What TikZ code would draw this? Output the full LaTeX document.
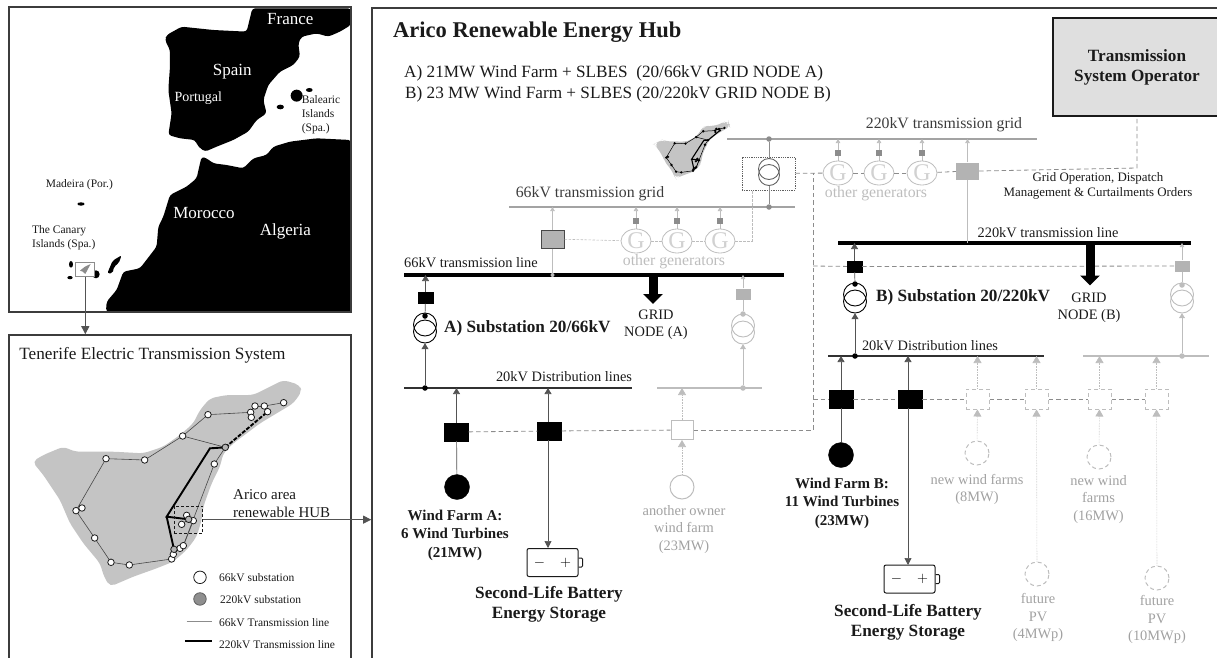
\documentclass[tikz,border=0pt]{standalone}
\usepackage{fontspec}
\setmainfont{Liberation Serif}
\usepackage{xcolor}
\usepackage{tikz}
\usetikzlibrary{shapes.geometric, arrows.meta, calc}

\definecolor{inkdark}{HTML}{1A1A1A}
\definecolor{wiregrey}{HTML}{8C8C8C}
\definecolor{fadegrey}{HTML}{BDBDBD}
\definecolor{boxgrey}{HTML}{B3B3B3}
\definecolor{islandgrey}{HTML}{C4C4C4}

\tikzset{
    txt/.style={inner sep=0pt, align=center, text=inkdark, font=\fontsize{14.4}{17.5}\selectfont},
    fadetxt/.style={txt, text=fadegrey!85!black},
    boldtxt/.style={txt, font=\fontsize{15}{18.5}\selectfont\bfseries},
    bigbold/.style={txt, font=\fontsize{17.2}{20}\selectfont\bfseries},
    maptxt/.style={txt, text=white, font=\fontsize{17}{20}\selectfont},
    smalltxt/.style={txt, font=\fontsize{11.5}{14.2}\selectfont},
    frame/.style={draw=inkdark!85, line width=1.6pt},
    busblack/.style={line width=3.4pt, black},
    busgrey/.style={line width=2.2pt, wiregrey!80},
    busdist/.style={line width=1.5pt, inkdark!90},
    busfade/.style={line width=1.1pt, fadegrey},
    wire/.style={line width=.7pt, inkdark!75},
    wiretop/.style={line width=.6pt, wiregrey},
    wirefade/.style={line width=.6pt, fadegrey},
    tapup/.style={wire, -{Triangle[length=6pt,width=7pt]}},
    taptop/.style={wiretop, -{Triangle[length=4pt,width=4.5pt]}},
    tapfade/.style={wirefade, densely dotted, -{Triangle[length=7pt,width=8pt]}},
    ctrl/.style={line width=.8pt, wiregrey, dash pattern=on 4.5pt off 3pt},
    ctrlfade/.style={line width=.6pt, fadegrey, dash pattern=on 2.5pt off 1.5pt},
    gridarrow/.style={line width=9pt, black, -{Triangle[length=10pt,width=19pt,inset=0pt]}},
    brk/.style={draw=black, fill=black, minimum width=24pt, minimum height=18pt, inner sep=0pt},
    brksmall/.style={draw=black, fill=black, minimum width=15pt, minimum height=11pt, inner sep=0pt},
    brkgrey/.style={draw=none, fill=boxgrey, minimum width=15pt, minimum height=11pt, inner sep=0pt},
    brkwhite/.style={draw=fadegrey, fill=white, line width=1pt, minimum width=22pt, minimum height=19pt, inner sep=0pt},
    brkfuture/.style={draw=fadegrey, line width=1pt, dash pattern=on 4pt off 3pt, fill=white, minimum width=23pt, minimum height=20pt, inner sep=0pt},
    sqsmall/.style={fill=wiregrey, minimum size=6pt, inner sep=0pt},
    gen/.style={ellipse, draw=fadegrey, line width=.8pt, minimum width=30pt, minimum height=24pt, inner sep=0pt, text=fadegrey!70, font=\fontsize{24}{24}\selectfont},
    farm/.style={circle, draw=black, fill=black, minimum size=25pt, inner sep=0pt},
    farmfade/.style={circle, draw=fadegrey, line width=1pt, minimum size=24pt, inner sep=0pt},
    farmfuture/.style={circle, draw=fadegrey, line width=1pt, dash pattern=on 4pt off 3pt, minimum size=24pt, inner sep=0pt},
    dotblack/.style={circle, fill=black, minimum size=5.5pt, inner sep=0pt},
    dotgrey/.style={circle, fill=wiregrey, minimum size=5.5pt, inner sep=0pt},
    dotfade/.style={circle, fill=fadegrey, minimum size=5.5pt, inner sep=0pt},
    battery/.style={draw=inkdark, line width=1pt, rounded corners=2pt, fill=white, minimum width=51pt, minimum height=28pt, inner sep=0pt, font=\fontsize{15}{15}\selectfont},
    sub66/.style={circle, draw=inkdark, fill=white, line width=.8pt, minimum size=6.5pt, inner sep=0pt},
    sub220/.style={circle, draw=inkdark, fill=boxgrey, line width=.8pt, minimum size=6.5pt, inner sep=0pt},
    subtiny/.style={circle, fill=black, minimum size=2.6pt, inner sep=0pt},
    linethin/.style={line width=.6pt, inkdark!80},
    linethick/.style={line width=1.9pt, black},
    linethickdash/.style={line width=1.9pt, black, dash pattern=on 4pt off 1.5pt}
}

% transformer symbol: name, position, colour, radius, shift of the two windings
\newcommand{\trafo}[5]{
    \node[inner sep=0pt, minimum width=2*#4 pt, minimum height=2*#4 pt + 2*#5 pt] (#1) at (#2) {};
    \draw[#3, line width=.9pt] ($(#1.center)+(0,-#5)$) circle (#4pt);
    \draw[#3, line width=.9pt] ($(#1.center)+(0,#5)$) circle (#4pt);
}

\pgfdeclarelayer{islandbase}
\pgfdeclarelayer{netlines}
\pgfsetlayers{islandbase,netlines,main}

% island with its network: name prefix, substation styles, line styles
\newcommand{\tenerife}[6]{
    \begin{pgfonlayer}{islandbase}
    \fill[islandgrey, rounded corners=5pt] (97,425) -- (130,405) -- (190,380) -- (225,395) -- (290,395) -- (340,395) -- (430,400) -- (490,380) -- (540,345) -- (580,310) -- (600,270) -- (630,235) -- (680,225) -- (760,225) -- (800,205) -- (850,180) -- (900,195) -- (905,215) -- (880,250) -- (830,280) -- (780,310) -- (740,340) -- (700,370) -- (670,400) -- (660,440) -- (635,490) -- (610,560) -- (605,600) -- (590,650) -- (560,690) -- (520,725) -- (470,745) -- (400,770) -- (330,800) -- (312,770) -- (300,730) -- (250,670) -- (210,610) -- (180,540) -- (130,465) -- cycle;
    \end{pgfonlayer}
    \coordinate (#1hub) at (500,590);
    \coordinate (#1bend) at (630,385);
    \foreach \nm/\x/\y in {a/228/572,b/246/564,c/318/416,d/434/420,e/548/348,f/624/284,g/752/277,h/765/258,i/793/258,j/851/248,k/803/275,l/754/292,n/643/432,o/284/654,p/333/727,q/388/735,r/515/717,s/520/703,u/540/685,v/550/677,w/560/586,z/545/613,y/580/602} {
        \node[#2] (#1\nm) at (\x,\y) {};
    }
    \foreach \nm/\x/\y in {m/676/382,t/522/688,x/566/598} {
        \node[#3] (#1\nm) at (\x,\y) {};
    }
    \begin{pgfonlayer}{netlines}
    \foreach \p/\q in {a/c,c/d,d/e,e/f,f/g,g/h,h/i,i/j,i/k,g/l,e/m,m/n,n/v,y/v,a/b,a/o,o/p,p/q,q/r,r/s,s/u,u/v,z/x} {
        \draw[#4] (#1\p.center) -- (#1\q.center);
    }
    \draw[#5] (#1x.center) -- (#1hub) -- (#1bend) -- (#1m.center);
    \draw[#5] (#1hub) -- (#1t.center);
    \draw[#6] (#1m.center) -- (#1k.center);
    \end{pgfonlayer}
}

\begin{document}
\begin{tikzpicture}[x=1pt, y=-1pt]
\useasboundingbox (0,0) rectangle (1217,657);
\clip (0,0) rectangle (1217,657);

% Map of the region
\begin{scope}[x=.3333pt, y=-.3333pt]
\fill[black, rounded corners=3pt] (757,25) -- (1053,25) -- (1053,75) -- (1020,95) -- (985,110) -- (950,100) -- (905,110) -- (895,130) -- (900,170) -- (880,195) -- (840,215) -- (805,255) -- (790,300) -- (800,340) -- (770,360) -- (745,395) -- (700,420) -- (650,440) -- (615,455) -- (595,440) -- (585,420) -- (540,415) -- (505,405) -- (515,340) -- (505,270) -- (510,200) -- (510,150) -- (495,120) -- (500,105) -- (545,80) -- (640,90) -- (740,95) -- cycle;
\fill[black, rounded corners=3pt] (605,470) -- (620,475) -- (640,490) -- (680,495) -- (730,505) -- (760,475) -- (800,465) -- (820,440) -- (870,425) -- (950,415) -- (1053,420) -- (1053,935) -- (318,935) -- (320,905) -- (350,870) -- (370,815) -- (420,805) -- (470,740) -- (475,680) -- (490,650) -- (510,585) -- (560,560) -- (590,535) -- (600,490) -- cycle;
\fill[black] (890,287) ellipse (18 and 18);
\fill[black] (928,270) ellipse (10 and 6);
\fill[black] (841,321) ellipse (11 and 7);
\fill[black] (243,612) ellipse (11 and 5);
\fill[black] (213,793) ellipse (6 and 10);
\fill[black] (210,833) ellipse (8 and 5);
\fill[black] (232,818) ellipse (5 and 8);
\fill[black] (288,823) ellipse (11 and 12);
\fill[black, rounded corners=2pt] (322,820) -- (338,782) -- (365,766) -- (356,790) -- (342,800) -- (338,820) -- cycle;
\node[draw=wiregrey, fill=white, line width=1pt, minimum width=19pt, minimum height=14.5pt, inner sep=0pt] (canarybox) at (256,808) {};
\fill[wiregrey] (240,812) -- (255,800) -- (272,792) -- (265,805) -- (256,822) -- (248,815) -- cycle;
\node[maptxt] (france) at (871,58) {France};
\node[maptxt] (spain) at (697,215) {Spain};
\node[maptxt, font=\fontsize{14}{16}\selectfont] (portugal) at (595,295) {Portugal};
\node[maptxt] (morocco) at (612,640) {Morocco};
\node[maptxt] (algeria) at (856,695) {Algeria};
\node[smalltxt, align=left, anchor=north west] (balearic) at (905,286) {Balearic\\Islands\\(Spa.)};
\node[smalltxt] (madeira) at (238,554) {Madeira (Por.)};
\node[smalltxt, align=left, anchor=north west] (canary) at (96,676) {The Canary\\Islands (Spa.)};
\end{scope}
\node[frame, minimum width=342pt, minimum height=305pt, inner sep=0pt] (mapframe) at (180,159.5) {};

% Tenerife panel
\node[frame, minimum width=342pt, minimum height=340pt, inner sep=0pt] (tenerifeframe) at (180,505) {};
\draw[wire, wiregrey!60!black, line width=1pt, -{Triangle[length=8pt,width=8pt]}] (canarybox) -- (canarybox |- tenerifeframe.north);
\node[txt, font=\fontsize{17.2}{20}\selectfont] (tenerifetitle) at (152.5,355) {Tenerife Electric Transmission System};
\begin{scope}[shift={(0,320)}, x=.3333pt, y=-.3333pt]
\tenerife{big}{sub66}{sub220}{linethin}{linethick}{linethickdash}
\node[draw=inkdark, densely dashed, line width=.6pt, minimum width=28.7pt, minimum height=27.3pt, inner sep=0pt] (hubarea) at (565,599) {};
\node[circle, draw=inkdark, fill=white, line width=.8pt, minimum size=12.5pt, inner sep=0pt] (leg66) at (600,772) {};
\node[circle, draw=inkdark!70, fill=boxgrey!80!black, line width=.8pt, minimum size=12.5pt, inner sep=0pt] (leg220) at (600,837) {};
\coordinate (legthinw) at (560,905);
\coordinate (legthine) at (635,905);
\coordinate (legthickw) at (555,963);
\coordinate (legthicke) at (635,963);
\draw[wiregrey, line width=1pt] (legthinw) -- (legthine);
\draw[black, line width=2.2pt] (legthickw) -- (legthicke);
\end{scope}
\node[smalltxt, anchor=west] (leg66txt) at (219,578) {66kV substation};
\node[smalltxt, anchor=west] (leg220txt) at (220,599.5) {220kV substation};
\node[smalltxt, anchor=west] (legthintxt) at (219,622.5) {66kV Transmission line};
\node[smalltxt, anchor=west] (legthicktxt) at (219,644.5) {220kV Transmission line};
\node[txt, font=\fontsize{15}{18}\selectfont, align=left, anchor=west] (hublabel) at (233,504) {Arico area\\renewable HUB};

% Hub panel
\node[frame, minimum width=870pt, minimum height=680pt, inner sep=0pt] (hubframe) at (807,348) {};
\draw[wire, line width=.8pt, -{Triangle[length=8pt,width=8pt]}] (hubarea) -- (hubarea -| hubframe.west);
\node[txt, anchor=west, font=\fontsize{22.5}{26}\selectfont\bfseries] (hubtitle) at (393,32) {Arico Renewable Energy Hub};
\node[txt, anchor=west, font=\fontsize{17.2}{20}\selectfont] (casea) at (404,73) {A) 21MW Wind Farm + SLBES\ \ (20/66kV GRID NODE A)};
\node[txt, anchor=west, font=\fontsize{17.2}{20}\selectfont] (caseb) at (405,94.5) {B) 23 MW Wind Farm + SLBES (20/220kV GRID NODE B)};
\node[draw=inkdark, line width=1.4pt, fill=islandgrey!55, minimum width=168pt, minimum height=98pt, inner sep=0pt, bigbold] (tso) at (1137,67) {Transmission\\System Operator};

% Small island
\begin{scope}[shift={(645,105.3)}, x=.0933pt, y=-.0913pt]
\tenerife{tiny}{subtiny}{subtiny}{line width=.5pt, black}{line width=1.1pt, black}{line width=1.1pt, black}
\end{scope}

% Top level grids
\coordinate (gridhw) at (727,139);
\coordinate (gridhe) at (1037,139);
\coordinate (gridmw) at (509,207);
\coordinate (gridme) at (795,207);
\draw[busgrey] (gridhw) -- (gridhe);
\draw[busgrey] (gridmw) -- (gridme);
\node[txt, text=inkdark!85, font=\fontsize{15.8}{18}\selectfont] (gridhtxt) at (944,125) {220kV transmission grid};
\node[txt, text=inkdark!85, font=\fontsize{15.8}{18}\selectfont] (gridmtxt) at (590,194) {66kV transmission grid};

% Grid transformer
\trafo{trafotop}{769,172}{wiregrey!70!black}{10.5}{3}
\node[draw=inkdark!70, densely dotted, line width=.8pt, minimum width=53pt, minimum height=33pt, inner sep=0pt] (trafobox) at (768.5,173.5) {};
\node[dotgrey] (dothigh) at (trafotop |- gridhw) {};
\node[dotgrey] (dotmid) at (trafotop |- gridmw) {};
\draw[wiretop] (dothigh) -- (trafotop);
\draw[wiretop] (trafotop) -- (dotmid);

% Other generators
\foreach \g/\x/\y/\bus in {ga/636/241/gridmw, gb/677/241/gridmw, gc/720/241/gridmw, gd/838/173/gridhw, ge/879/173/gridhw, gf/922/173/gridhw} {
    \node[gen] (\g) at (\x,\y) {G};
    \node[sqsmall] (\g sq) at (\x,\y-20) {};
    \draw[wirefade] (\g) -- (\g sq);
    \draw[taptop, fadegrey] (\g sq) -- (\g sq |- \bus);
}
\node[txt, text=fadegrey, font=\fontsize{15.8}{18}\selectfont] (othera) at (674,262) {other generators};
\node[txt, text=fadegrey, font=\fontsize{15.8}{18}\selectfont] (otherb) at (876,194) {other generators};

% Level boxes
\node[draw=inkdark!80, line width=1pt, fill=boxgrey, minimum width=23pt, minimum height=18pt, inner sep=0pt] (boxm) at (552.5,239) {};
\node[fill=boxgrey, minimum width=23pt, minimum height=17pt, inner sep=0pt] (boxh) at (967.5,171) {};
\coordinate (trafotap) at (752,190);
\coordinate (tsocorner) at (1137,168);
\draw[ctrlfade] (boxm) -- (ga);
\draw[ctrlfade] (ga) -- (gb);
\draw[ctrlfade] (gb) -- (gc);
\draw[ctrlfade] (gc) -| (trafotap);
\draw[ctrl] (trafobox) -- (gd);
\draw[ctrl] (gd) -- (ge);
\draw[ctrl] (ge) -- (gf);
\draw[ctrl] (gf) -- (boxh);
\draw[ctrl] (boxh.east) -- (tsocorner) -- (tso.south);

% 66kV side
\coordinate (linemw) at (404,275);
\coordinate (lineme) at (784,275);
\draw[busblack] (linemw) -- (lineme);
\node[txt] (linemtxt) at (471,263) {66kV transmission line};
\draw[taptop, fadegrey] (boxm) -- (boxm |- gridmw);
\draw[wirefade] (boxm) -- (boxm |- linemw);
\node[dotfade, minimum size=4pt] (dotboxm) at (boxm |- linemw) {};
\coordinate (gridas) at (653,275);
\coordinate (gridat) at (653,304);
\draw[gridarrow] (gridas) -- (gridat);
\node[txt] (gridatxt) at (656,325) {GRID\\NODE (A)};
\node[brksmall] (brkA) at (425.5,298) {};
\trafo{trafoA}{425,328}{black}{11.5}{3.5}
\node[txt, anchor=west, font=\fontsize{17.2}{20}\selectfont\bfseries] (subAtxt) at (444,328) {A) Substation 20/66kV};
\node[dotblack] (dotAtop) at (425,316) {};
\coordinate (busaw) at (404,388);
\coordinate (busae) at (632,388);
\coordinate (busfw) at (657,388);
\coordinate (busfe) at (762,388);
\draw[busdist] (busaw) -- (busae);
\draw[busfade] (busfw) -- (busfe);
\node[dotblack] (dotA) at (trafoA |- busaw) {};
\node[txt] (busatxt) at (564,377) {20kV Distribution lines};
\draw[tapup] (brkA) -- (brkA |- linemw);
\draw[wire] (brkA) -- (dotAtop);
\draw[tapup] (dotA) -- (trafoA.south);

\node[brkgrey] (brkAf) at (743,294) {};
\trafo{trafoAf}{743,329}{fadegrey}{11.5}{3.5}
\node[dotfade] (dotAftop) at (743,314) {};
\node[dotfade] (dotAf) at (trafoAf |- busfw) {};
\draw[taptop, fadegrey] (brkAf) -- (brkAf |- linemw);
\draw[wirefade] (brkAf) -- (dotAftop);
\draw[wirefade, -{Triangle[length=5pt,width=6pt]}] (dotAf) -- (trafoAf.south);

% Plant A
\node[brk] (brka) at (456.5,432) {};
\node[brk] (brkb) at (549.5,431) {};
\node[brkwhite] (brkc) at (682,430) {};
\node[farm] (farma) at (457,487) {};
\node[farmfade] (farmc) at (682,487) {};
\node[battery] (batta) at (552.5,562.5) {$-$\hspace{15pt}$+$};
\draw[line width=1pt, inkdark, rounded corners=1pt] ($(batta.east)+(0,-4.5)$) -- ++(4,0) -- ++(0,9) -- ++(-4,0);
\coordinate (brkbtop) at (548,422);
\coordinate (brkbbot) at (548,440);
\coordinate (battatop) at (548,548);
\draw[tapup] (brka) -- (brka |- busaw);
\draw[wire] (brka) -- (farma);
\draw[tapup] (brkbtop) -- (brkbtop |- busaw);
\draw[tapup, -{Triangle[length=7pt,width=7pt]}] (brkbbot) -- (battatop);
\draw[ctrl] (brka) -- (brkb);
\draw[ctrl] (brkb) -- (brkc);
\draw[tapfade] (brkc) -- (brkc |- busaw);
\draw[tapfade] (farmc) -- (brkc);
\node[boldtxt] (farmatxt) at (455,535) {Wind Farm A:\\6 Wind Turbines\\(21MW)};
\node[bigbold] (battatxt) at (549,604) {Second-Life Battery\\Energy Storage};
\node[fadetxt] (farmctxt) at (684,529.5) {another owner\\wind farm\\(23MW)};

% 220kV side
\coordinate (linehw) at (838,243);
\coordinate (linehe) at (1191,243);
\draw[busblack] (linehw) -- (linehe);
\node[txt] (linehtxt) at (1048,233) {220kV transmission line};
\draw[taptop, fadegrey] (boxh) -- (boxh |- gridhw);
\draw[wirefade] (boxh) -- (boxh |- linehw);
\node[txt, font=\fontsize{12.9}{14.5}\selectfont] (orders) at (1098,186) {Grid Operation, Dispatch\\Management \& Curtailments Orders};
\coordinate (gridbs) at (1090,243);
\coordinate (gridbt) at (1090,285.5);

% Dashed control lines
\coordinate (ctrltop) at (813,173);
\coordinate (ctrlmid) at (813,266);
\coordinate (ctrlbus) at (813,399);
\coordinate (ctrlend) at (813,430);
\node[brksmall] (brkB) at (854.5,266.5) {};
\node[brkgrey] (brkBf) at (1182,266) {};
\draw[ctrl] (brkc) -- (ctrlend) -- (ctrltop);
\draw[ctrl] (ctrlmid) -- (brkB);
\draw[ctrl] (brkB) -- (brkBf);

\draw[gridarrow] (gridbs) -- (gridbt);
\node[txt] (gridbtxt) at (1089,308) {GRID\\NODE (B)};
\trafo{trafoB}{855,298}{black}{11.5}{3.5}
\node[txt, anchor=west, font=\fontsize{17.2}{20}\selectfont\bfseries] (subBtxt) at (876,297) {B) Substation 20/220kV};
\node[dotblack] (dotBtop) at (855,284) {};
\coordinate (busbw) at (828,356);
\coordinate (busbe) at (1044,356);
\coordinate (busgw) at (1083,356);
\coordinate (busge) at (1209,356);
\draw[busdist] (busbw) -- (busbe);
\draw[busfade] (busgw) -- (busge);
\node[dotblack] (dotB) at (trafoB |- busbw) {};
\node[txt] (busbtxt) at (930,346) {20kV Distribution lines};
\draw[tapup] (brkB) -- (brkB |- linehw);
\draw[wire] (brkB) -- (dotBtop);
\draw[tapup] (dotB) -- (trafoB.south);

\trafo{trafoBf}{1182,298}{fadegrey}{11.5}{3.5}
\node[dotfade] (dotBftop) at (1182,285) {};
\node[dotfade] (dotBf) at (trafoBf |- busgw) {};
\draw[taptop, fadegrey] (brkBf) -- (brkBf |- linehw);
\draw[wirefade] (brkBf) -- (dotBftop);
\draw[wirefade, -{Triangle[length=5pt,width=6pt]}] (dotBf) -- (trafoBf.south);

% Plant B
\node[brk] (brkd) at (841,399) {};
\node[brk] (brke) at (910,399) {};
\node[brkfuture] (brkf) at (977.5,399) {};
\node[brkfuture] (brkg) at (1036.5,399) {};
\node[brkfuture] (brkh) at (1099.5,399) {};
\node[brkfuture] (brki) at (1156.5,399) {};
\node[farm] (farmd) at (841,455) {};
\node[farmfuture] (farmf) at (977,453) {};
\node[farmfuture] (farmg) at (1037,574) {};
\node[farmfuture] (farmh) at (1099,457) {};
\node[farmfuture] (farmi) at (1157,578) {};
\node[battery] (battb) at (909.5,579) {$-$\hspace{15pt}$+$};
\draw[line width=1pt, inkdark, rounded corners=1pt] ($(battb.east)+(0,-4.5)$) -- ++(4,0) -- ++(0,9) -- ++(-4,0);
\coordinate (brketop) at (908,390);
\coordinate (brkebot) at (908,408);
\coordinate (battbtop) at (908,565);
\draw[tapup] (brkd) -- (brkd |- busbw);
\draw[wire] (brkd) -- (farmd);
\draw[tapup] (brketop) -- (brketop |- busbw);
\draw[tapup, -{Triangle[length=7pt,width=7pt]}] (brkebot) -- (battbtop);
\foreach \b/\bus in {brkf/busbw, brkg/busbw, brkh/busgw, brki/busgw} {
    \draw[tapfade] (\b) -- (\b |- \bus);
}
\foreach \f/\b in {farmf/brkf, farmg/brkg, farmh/brkh, farmi/brki} {
    \draw[tapfade] (\f) -- (\b);
}
\node[boldtxt] (farmdtxt) at (842,503) {Wind Farm B:\\11 Wind Turbines\\(23MW)};
\node[bigbold] (battbtxt) at (908,622) {Second-Life Battery\\Energy Storage};
\node[fadetxt] (farmftxt) at (977,489.5) {new wind farms\\(8MW)};
\node[fadetxt] (farmhtxt) at (1098.5,499.5) {new wind\\farms\\(16MW)};
\node[fadetxt] (farmgtxt) at (1038,617.5) {future\\PV\\(4MWp)};
\node[fadetxt] (farmitxt) at (1157,619.5) {future\\PV\\(10MWp)};
\draw[ctrl] (ctrlbus) -- (brkd);
\draw[ctrl] (brkd) -- (brke);
\draw[ctrl] (brke) -- (brkf);
\draw[ctrl] (brkf) -- (brkg);
\draw[ctrl] (brkg) -- (brkh);
\draw[ctrl] (brkh) -- (brki);

\end{tikzpicture}
\end{document}
